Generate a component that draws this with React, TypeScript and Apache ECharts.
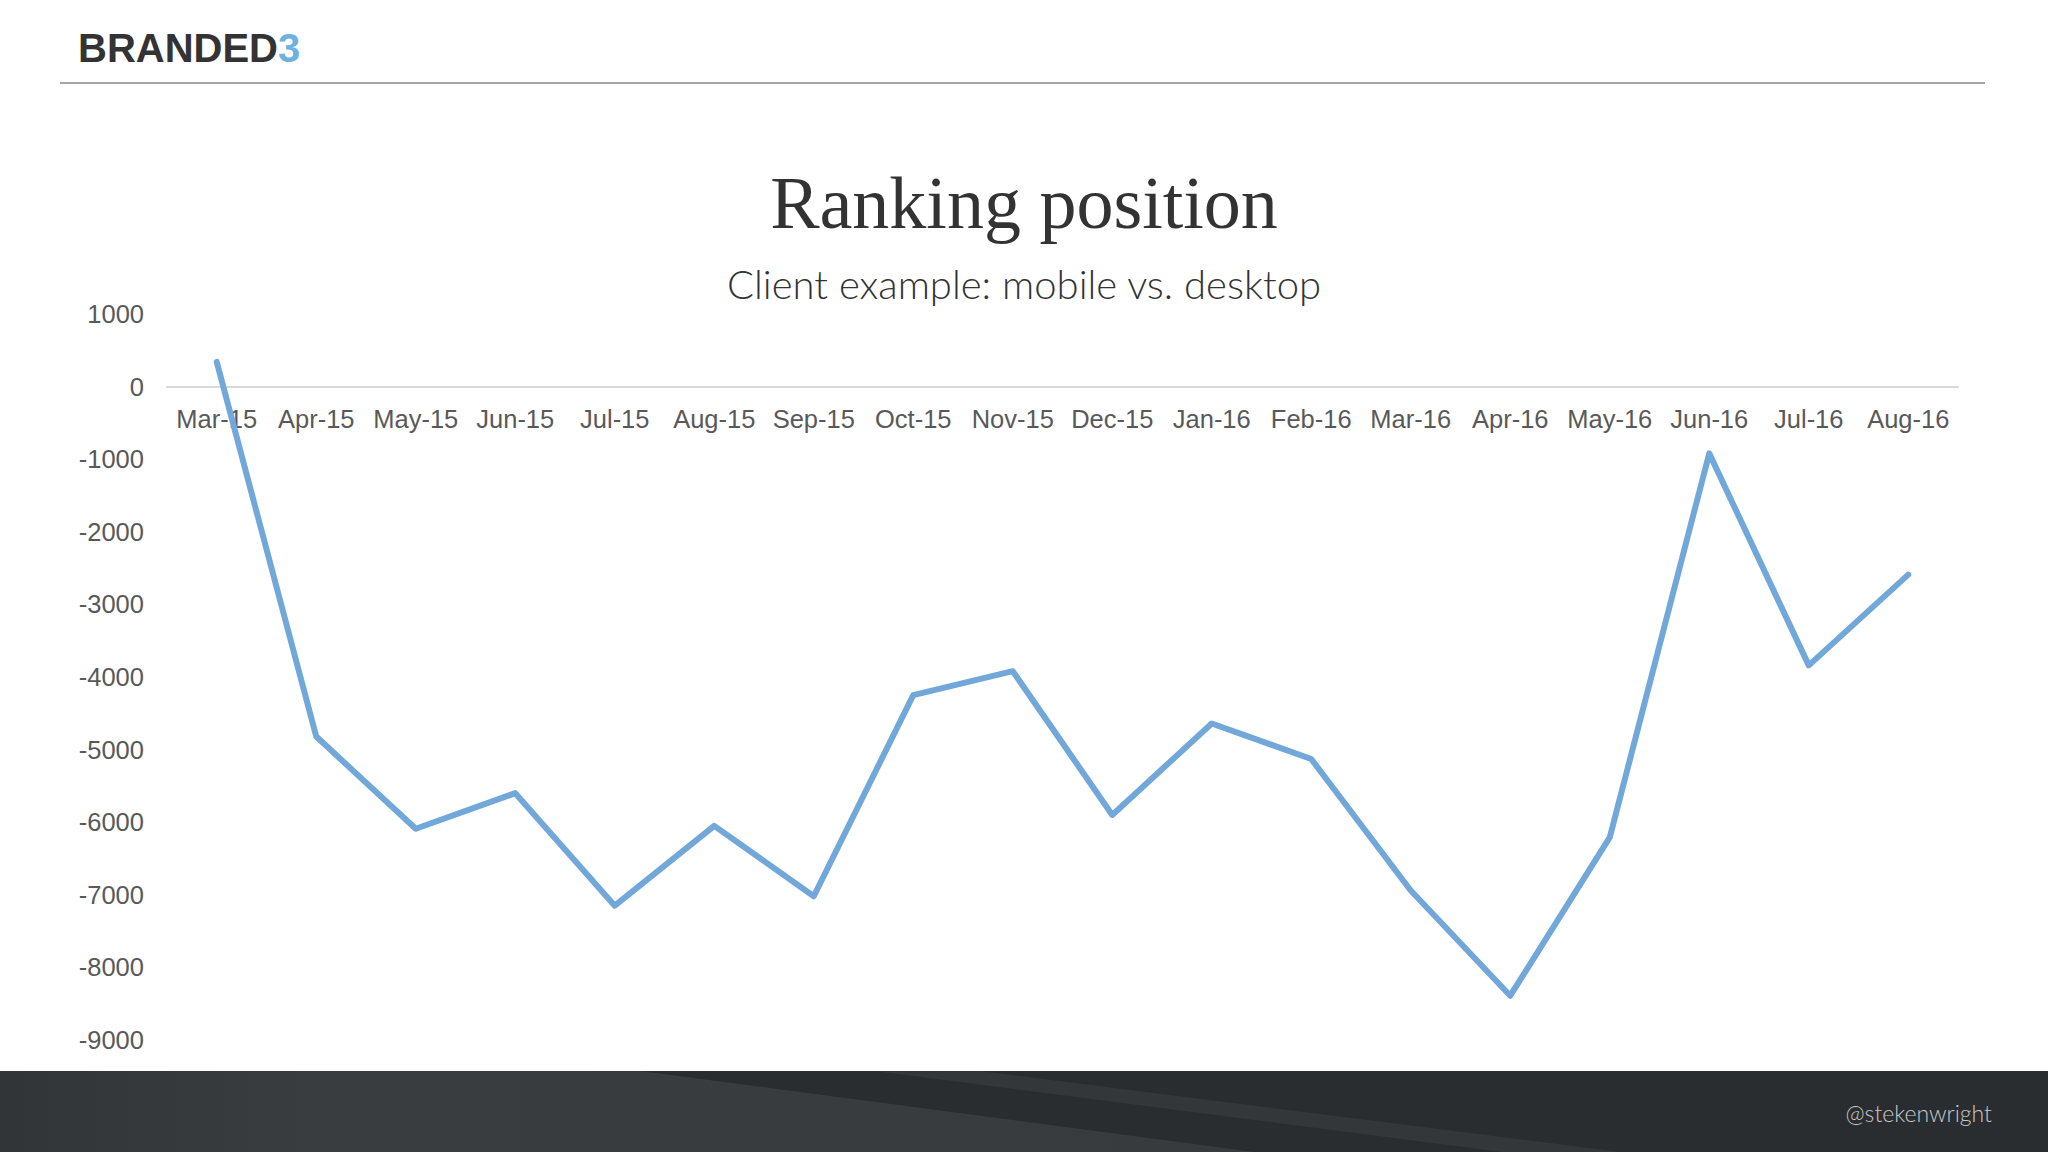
import React, { useEffect, useRef } from "react";
import * as echarts from "echarts";

const months = [
  "Mar-15", "Apr-15", "May-15", "Jun-15", "Jul-15", "Aug-15", "Sep-15", "Oct-15", "Nov-15",
  "Dec-15", "Jan-16", "Feb-16", "Mar-16", "Apr-16", "May-16", "Jun-16", "Jul-16", "Aug-16",
];
const rankingDiff = [
  340, -4820, -6090, -5600, -7150, -6050, -7020, -4250, -3920,
  -5900, -4640, -5130, -6940, -8390, -6210, -920, -3840, -2590,
];
const titleText = "Ranking position";
const subtitleText = "Client example: mobile vs. desktop";
const brandMain = "BRANDED";
const brandNum = "3";
const handle = "@stekenwright";

export default function App() {
  const ref = useRef<HTMLDivElement>(null);
  useEffect(() => {
    if (!ref.current) return;
    const chart = echarts.init(ref.current, null, { renderer: "svg" });
    const gridTop = 314;
    const gridBottom = 112;
    const plotH = 1152 - gridTop - gridBottom;
    const zeroOffset = -(plotH * 9) / 10; // move category axis from bottom (-9000) up to 0
    chart.setOption({
      animation: false,
      backgroundColor: "#ffffff",
      grid: { left: 167, right: 90, top: gridTop, bottom: gridBottom, containLabel: false },
      xAxis: {
        type: "category",
        data: months,
        boundaryGap: true,
        position: "bottom",
        offset: zeroOffset,
        axisLine: { onZero: false, lineStyle: { color: "#d9d9d9", width: 2 } },
        axisTick: { show: false },
        axisLabel: {
          interval: 0,
          margin: 19,
          color: "#595959",
          fontSize: 25.5,
          fontFamily: "Liberation Sans, Arial, sans-serif",
        },
        splitLine: { show: false },
      },
      yAxis: {
        type: "value",
        min: -9000,
        max: 1000,
        interval: 1000,
        axisLine: { show: false },
        axisTick: { show: false },
        splitLine: { show: false },
        axisLabel: {
          margin: 23,
          color: "#595959",
          fontSize: 25.5,
          fontFamily: "Liberation Sans, Arial, sans-serif",
          formatter: (v: number) => String(v),
        },
      },
      series: [
        {
          type: "line",
          data: rankingDiff,
          showSymbol: false,
          symbol: "none",
          lineStyle: { color: "#72a7da", width: 6, cap: "round", join: "round" },
          z: 3,
        },
      ],
      graphic: [
        {
          type: "text",
          left: 78,
          top: 28,
          style: {
            text: "{a|" + brandMain + "}{b|" + brandNum + "}",
            rich: {
              a: { fill: "#333333", fontSize: 40, fontWeight: "bold", fontFamily: "Liberation Sans, Arial, sans-serif" },
              b: { fill: "#6db2e3", fontSize: 40, fontWeight: "bold", fontFamily: "Liberation Sans, Arial, sans-serif" },
            },
          },
        },
        {
          type: "line",
          shape: { x1: 60, y1: 83, x2: 1985, y2: 83 },
          style: { stroke: "#a6a6a6", lineWidth: 2 },
        },
        {
          type: "text",
          x: 1024,
          y: 203,
          style: {
            text: titleText,
            fill: "#333333",
            fontSize: 74,
            fontFamily: "Liberation Serif, Times New Roman, serif",
            align: "center",
            verticalAlign: "middle",
          },
        },
        {
          type: "text",
          x: 1024,
          y: 284,
          style: {
            text: subtitleText,
            fill: "#333333",
            fontSize: 40,
            fontWeight: 300,
            fontFamily: "Lato, Noto Sans, sans-serif",
            align: "center",
            verticalAlign: "middle",
          },
        },
        {
          type: "group",
          z: 100,
          children: [
            {
              type: "rect",
              shape: { x: 0, y: 1071, width: 2048, height: 81 },
              style: { fill: "#2a2d30" },
            },
            {
              type: "polygon",
              shape: { points: [[0, 1071], [640, 1071], [1254, 1152], [0, 1152]] },
              style: {
                fill: new echarts.graphic.LinearGradient(0, 0, 1, 0, [
                  { offset: 0, color: "#323538" },
                  { offset: 0.25, color: "#3a3d40" },
                  { offset: 1, color: "#383b3e" },
                ]),
              },
            },
            {
              type: "polygon",
              shape: { points: [[875, 1071], [980, 1071], [1620, 1152], [1502, 1152]] },
              style: { fill: "#34373a" },
            },
            {
              type: "text",
              x: 1992,
              y: 1113,
              style: {
                text: handle,
                fill: "#c8c8c8",
                fontSize: 23,
                fontWeight: 300,
                fontFamily: "Lato, Noto Sans, sans-serif",
                align: "right",
                verticalAlign: "middle",
              },
            },
          ],
        },
      ],
    });
    return () => chart.dispose();
  }, []);
  return (
    <div
      ref={ref}
      style={{ position: "absolute", left: 0, top: 0, width: 2048, height: 1152 }}
    />
  );
}
